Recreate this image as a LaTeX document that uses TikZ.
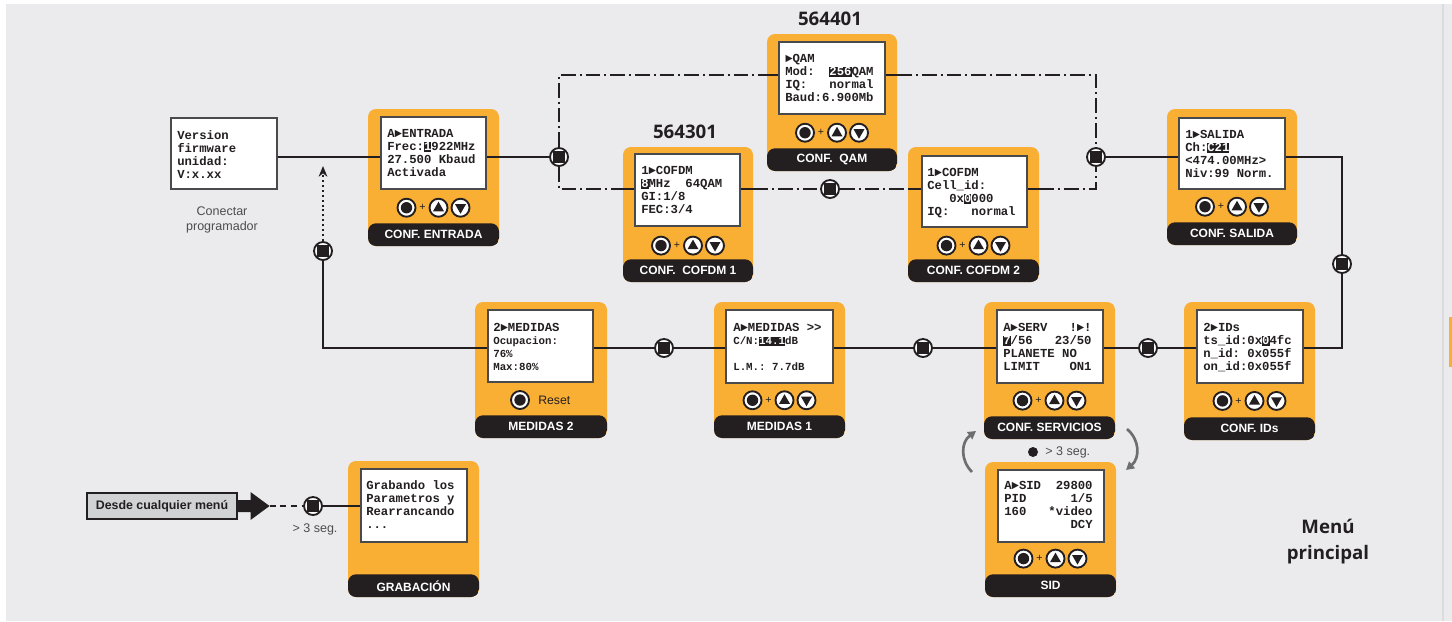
\documentclass[tikz,border=0pt]{standalone}
\usepackage{fontspec}
\setmainfont{Liberation Sans}
\newfontfamily\lcdf{Liberation Mono}
\newfontfamily\headf{Open Sans}
\usetikzlibrary{fit,arrows.meta,calc}
\definecolor{bgc}{HTML}{EBEBED}
\definecolor{bgedge}{HTML}{DCDCDE}
\definecolor{orng}{HTML}{F9AE34}
\definecolor{ink}{HTML}{231F20}
\definecolor{scrb}{HTML}{4A4A4C}
\definecolor{gbox}{HTML}{D1D2D4}
\definecolor{arrg}{HTML}{6D6E71}
\definecolor{txtg}{HTML}{4D4D4F}
\newcommand\hlt[1]{{\fboxsep=0pt\colorbox{ink}{\rule[-0.14em]{0pt}{0.84em}\textcolor{white}{#1}}}}
\newcommand\smallcd{\fontsize{8.1}{9.75}\selectfont}
\tikzset{
  card/.style={fill=orng, rounded corners=6pt, inner sep=0pt,
    path picture={\fill[ink] (path picture bounding box.south west) rectangle ([yshift=17pt]path picture bounding box.south east);}},
  scr/.style={fill=white, draw=scrb, line width=0.8pt, inner sep=0pt},
  lbl/.style={text=white, font=\fontsize{9}{10}\selectfont\bfseries, inner sep=0pt},
  lcd/.style={anchor=north west, inner sep=0pt, align=left, text=ink, font=\lcdf\bfseries\fontsize{9.2}{9.75}\selectfont},
  ln/.style={draw=ink, line width=1.5pt},
  dd/.style={draw=ink, line width=1.5pt, dash pattern=on 11pt off 3pt on 1.5pt off 3pt},
  jn/.style={circle, draw=ink, fill=white, line width=1.4pt, minimum size=13.5pt, inner sep=0pt,
    path picture={\fill[ink] ([shift={(-4.2pt,-4.2pt)}]path picture bounding box.center) rectangle ([shift={(4.2pt,4.2pt)}]path picture bounding box.center);}},
  okbtn/.pic={\draw[ink, fill=white, line width=1.4pt] (0,0) circle[radius=9]; \fill[ink] (0,0) circle[radius=5.7];},
  upbtn/.pic={\draw[ink, fill=white, line width=1.4pt] (0,0) circle[radius=9]; \fill[ink] (0,-6) -- (5.5,3.6) -- (-5.5,3.6) -- cycle;},
  dnbtn/.pic={\draw[ink, fill=white, line width=1.4pt] (0,0) circle[radius=9]; \fill[ink] (0,6) -- (5.5,-3.6) -- (-5.5,-3.6) -- cycle;},
  btnrow/.pic={\pic at (-27,0) {okbtn}; \node[font=\fontsize{8}{8}\selectfont, text=ink, inner sep=0pt] at (-11,0) {+}; \pic at (5,0) {upbtn}; \pic at (27,0) {dnbtn};},
  plain/.style={font=\fontsize{9.4}{11.25}\selectfont, text=txtg, inner sep=0pt},
  head/.style={font=\headf\bfseries\fontsize{14}{19.5}\selectfont, text=ink, inner sep=0pt, align=center},
  garr/.style={draw=arrg, line width=2pt, -{Triangle[length=6pt,width=6.5pt]}}
}
\newcommand\mkcard[6]{%
  \node[card, fit={(#2,#3) (#4,#5)}] (#1) {};
  \node[lbl] at ([yshift=8.6pt]#1.south) {#6};
}
\begin{document}
\begin{tikzpicture}[x=0.75pt,y=-0.75pt]
\useasboundingbox (0,0) rectangle (1452,621);
% background
\fill[white] (0,0) rectangle (1452,621);
\fill[bgc] (6,4) rectangle (1452,621);
\fill[bgedge] (1442,4) rectangle (1444,621);
\fill[orng] (1449,317) rectangle (1452,367);

% level coordinates
\coordinate (ymain) at (0,157);
\coordinate (yq) at (0,75);
\coordinate (yc) at (0,189);
\coordinate (ybot) at (0,348);
\coordinate (yg) at (0,506);

% version box
\node[fit={(171,118) (277,189)}, draw=scrb, fill=white, line width=1pt, inner sep=0pt] (version) {};
\node[lcd] (versionT) at (177,130) {Version\\firmware\\unidad:\\V:x.xx};
\node[plain, align=center] (conectar) at (222,220) {Conectar\\programador};

% cards
\mkcard{entrada}{368}{109}{499}{246}{CONF. ENTRADA}
\node[scr, fit={(381,117) (486,189)}] (entradaS) {};
\node[lcd] (entradaT) at (387,129) {A►ENTRADA\\Frec:\hlt{1}922MHz\\27.500~Kbaud\\Activada};
\pic at ([yshift=28.9pt]entrada.south) {btnrow};

\mkcard{qam}{767}{34}{897}{171}{CONF.~~QAM}
\node[scr, fit={(779,42) (885,114)}] (qamS) {};
\node[lcd] (qamT) at (785,54) {►QAM\\Mod:~~\hlt{256}QAM\\IQ:~~~normal\\Baud:6.900Mb};
\pic at ([yshift=28.9pt]qam.south) {btnrow};
\node[head] (qamnum) at (830,19) {564401};

\mkcard{cofdma}{623}{147}{753}{282}{CONF.~~COFDM 1}
\node[scr, fit={(635,154) (740,226)}] (cofdmaS) {};
\node[lcd] (cofdmaT) at (641,166) {1►COFDM\\\hlt{8}MHz~~64QAM\\GI:1/8\\FEC:3/4};
\pic at ([yshift=27.5pt]cofdma.south) {btnrow};
\node[head] (cofdmnum) at (685,132) {564301};

\mkcard{cofdmb}{908}{147}{1039}{282}{CONF. COFDM 2}
\node[scr, fit={(922,156) (1027,227)}] (cofdmbS) {};
\node[lcd] (cofdmbT) at (927,168) {1►COFDM\\Cell\_id:\\~~~0x\hlt{0}000\\IQ:~~~normal};
\pic at ([yshift=27.5pt]cofdmb.south) {btnrow};

\mkcard{salida}{1167}{109}{1297}{245}{CONF. SALIDA}
\node[scr, fit={(1179,118) (1285,189)}] (salidaS) {};
\node[lcd] (salidaT) at (1185,130) {1►SALIDA\\Ch:\hlt{C21}\\<474.00MHz>\\Niv:99~Norm.};
\pic at ([yshift=28.9pt]salida.south) {btnrow};

\mkcard{medb}{475}{302}{607}{438}{MEDIDAS 2}
\node[scr, fit={(488,310) (593,382)}] (medbS) {};
\node[lcd] (medbT) at (493,323) {2►MEDIDAS\\{\smallcd Ocupacion:}\\{\smallcd 76\%}\\{\smallcd Max:80\%}};
\pic at (520,400) {okbtn};
\node[font=\fontsize{9.2}{10}\selectfont, text=ink, anchor=west, inner sep=0pt] (reset) at (538,400) {Reset};

\mkcard{meda}{714}{302}{845}{438}{MEDIDAS 1}
\node[scr, fit={(726,310) (833,383)}] (medaS) {};
\node[lcd] (medaT) at (733,323) {A►MEDIDAS~>>\\{\smallcd C/N:\hlt{14.1}dB}\\~\\{\smallcd L.M.:~7.7dB}};
\pic at ([yshift=28.5pt]meda.south) {btnrow};

\mkcard{serv}{984}{302}{1115}{439}{CONF. SERVICIOS}
\node[scr, fit={(997,310) (1103,383)}] (servS) {};
\node[lcd] (servT) at (1003,323) {A►SERV~~~!►!\\\hlt{7}/56~~~23/50\\PLANETE~NO\\LIMIT~~~~ON1};
\pic at ([yshift=29pt]serv.south) {btnrow};

\mkcard{ids}{1184}{302}{1315}{440}{CONF. IDs}
\node[scr, fit={(1197,310) (1303,383)}] (idsS) {};
\node[lcd] (idsT) at (1203,323) {2►IDs\\ts\_id:0x\hlt{0}4fc\\n\_id:~0x055f\\on\_id:0x055f};
\pic at ([yshift=29.5pt]ids.south) {btnrow};

\mkcard{sid}{985}{462}{1116}{597}{SID}
\node[scr, fit={(998,470) (1104,542)}] (sidS) {};
\node[lcd] (sidT) at (1004,481) {A►SID~~29800\\PID~~~~~~1/5\\160~~~*video\\~~~~~~~~~DCY};
\pic at ([yshift=29pt]sid.south) {btnrow};

\mkcard{grab}{348}{461}{479}{597}{GRABACIÓN}
\node[scr, fit={(361,469) (467,542)}] (grabS) {};
\node[lcd] (grabT) at (366,480) {Grabando~los\\Parametros~y\\Rearrancando\\...};

% junctions
\node[jn] (j1) at (559,157) {};
\node[jn] (j2) at (1096,157) {};
\node[jn] (j3) at (830,189) {};
\node[jn] (j4) at (1342,264) {};
\node[jn] (j5) at (1148,348) {};
\node[jn] (j6) at (923,348) {};
\node[jn] (j7) at (664,348) {};
\node[jn] (j8) at (323,251) {};
\node[jn] (j9) at (313,506) {};
\coordinate (tipA) at (323,166);

% top row connectors
\draw[ln] (version.east |- ymain) -- (entradaS.west |- ymain);
\draw[ln] (entradaS.east |- ymain) -- (j1);
\draw[dd] (j1) |- (qam.west |- yq);
\draw[ln] (qam.west |- yq) -- (qamS.west |- yq);
\draw[ln] (qamS.east |- yq) -- (qam.east |- yq);
\draw[dd] (qam.east |- yq) -| (j2);
\draw[dd] (j1) |- (cofdma.west |- yc);
\draw[ln] (cofdma.west |- yc) -- (cofdmaS.west |- yc);
\draw[ln] (cofdmaS.east |- yc) -- (cofdma.east |- yc);
\draw[dd] (cofdma.east |- yc) -- (j3);
\draw[dd] (j3) -- (cofdmb.west |- yc);
\draw[ln] (cofdmb.west |- yc) -- (cofdmbS.west |- yc);
\draw[ln] (cofdmbS.east |- yc) -- (cofdmb.east |- yc);
\draw[dd] (cofdmb.east |- yc) -| (j2);
\draw[ln] (j2) -- (salidaS.west |- ymain);
\draw[ln] (salidaS.east |- ymain) -| (j4);
\draw[ln] (j4) |- (idsS.east |- ybot);
% bottom row connectors
\draw[ln] (idsS.west |- ybot) -- (j5);
\draw[ln] (j5) -- (servS.east |- ybot);
\draw[ln] (servS.west |- ybot) -- (j6);
\draw[ln] (j6) -- (medaS.east |- ybot);
\draw[ln] (medaS.west |- ybot) -- (j7);
\draw[ln] (j7) -- (medbS.east |- ybot);
\draw[ln] (medbS.west |- ybot) -| (j8);
\draw[draw=ink, line width=1.5pt, dash pattern=on 1.5pt off 2.2pt, -{Stealth[length=8pt,width=6.5pt,inset=2.5pt]}] (j8) -- (tipA);

% SID loop
\coordinate (la) at (972,472);
\coordinate (lb) at (976,431);
\coordinate (ra) at (1127,429);
\coordinate (rb) at (1126,470);
\draw[garr] (la) .. controls (960,460) and (961,442) .. (lb);
\draw[garr] (ra) .. controls (1140,440) and (1140,458) .. (rb);
\fill[ink] (1033,452) circle[radius=5];
\node[plain, anchor=west] (sidtime) at (1045,452) {> 3 seg.};

% Desde cualquier menu
\node[fit={(87,493) (237,519)}, draw=ink, fill=gbox, line width=0.8pt, inner sep=0pt] (desde) {};
\node[font=\fontsize{9.3}{10}\selectfont\bfseries, text=ink, inner sep=0pt] (desdeT) at (desde.center) {Desde cualquier menú};
\fill[ink] ($(desde.east)+(0,-6)$) -- ++(13,0) -- ++(0,-8) -- ++(19,14) -- ++(-19,14) -- ++(0,-8) -- ++(-13,0) -- cycle;
\coordinate (atip) at ($(desde.east)+(32,0)$);
\draw[draw=ink, line width=1.5pt, dash pattern=on 4.5pt off 3.5pt] (atip) -- (j9);
\draw[ln] (j9) -- (grabS.west |- yg);
\node[plain] (grabtime) at (315,529) {> 3 seg.};

% title
\node[head] (menu) at (1328,542) {Menú\\principal};
\end{tikzpicture}
\end{document}
